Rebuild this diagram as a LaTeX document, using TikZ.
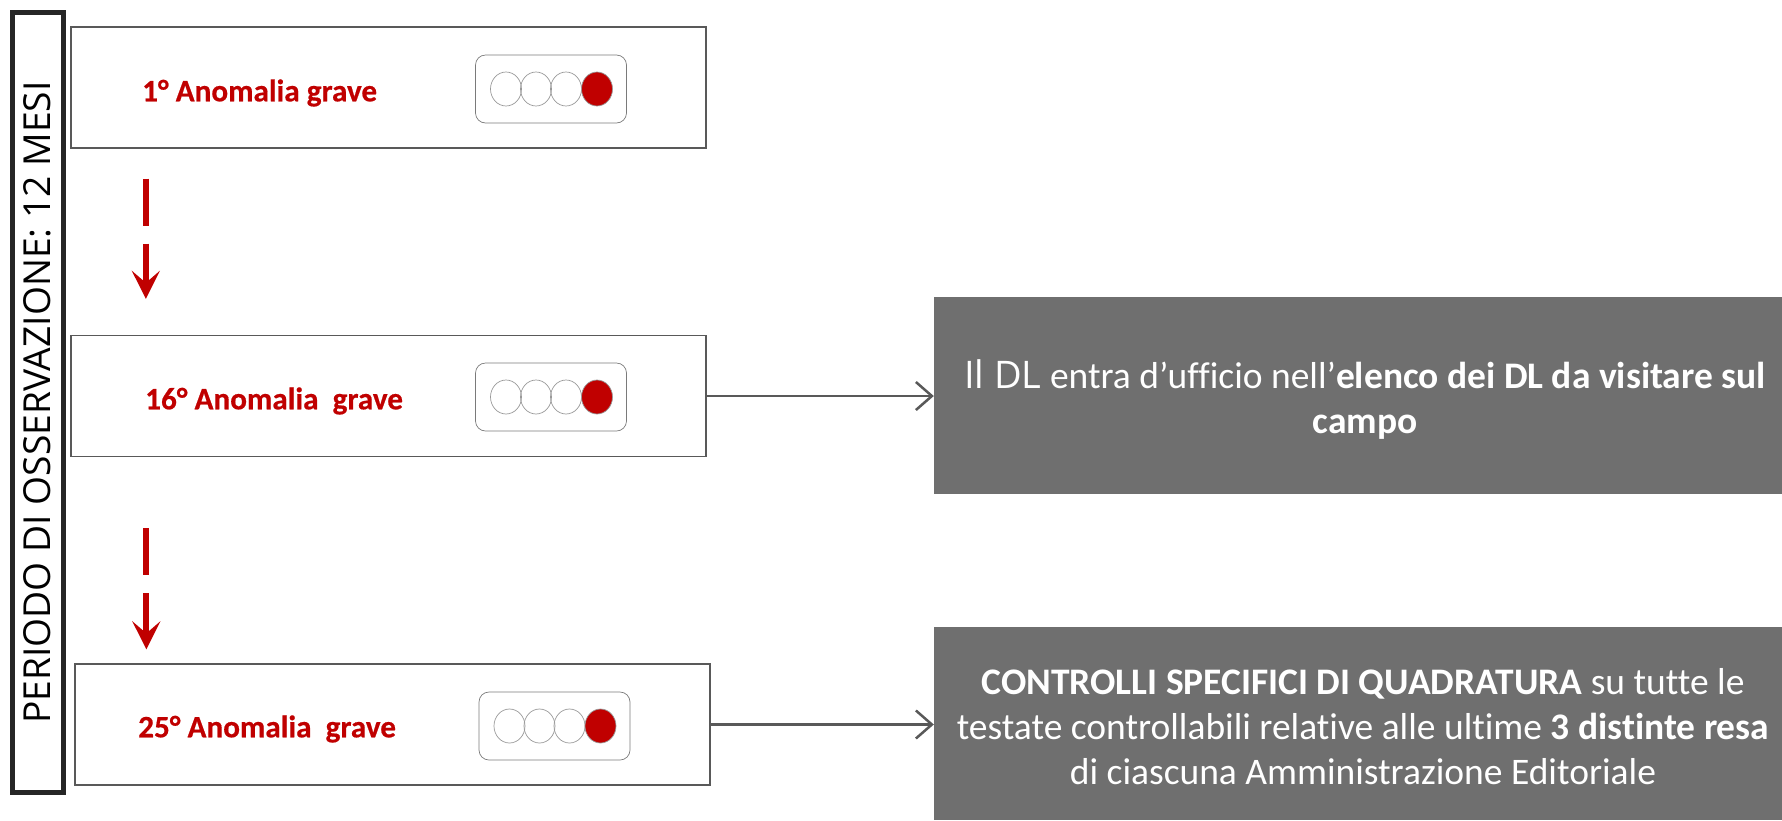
\documentclass[tikz,border=0pt]{standalone}
\usepackage{fontspec}
\setmainfont[Ligatures=NoCommon]{Carlito}
\newfontfamily\lightfont{Open Sans}
\newfontfamily\labelfont[Ligatures=NoCommon,FakeBold=0.5]{Carlito Bold}
\usetikzlibrary{shapes.geometric,arrows.meta}
\definecolor{darkred}{HTML}{C00000}
\definecolor{boxgrey}{HTML}{6F6F6F}
\definecolor{linegrey}{HTML}{595959}
\newcommand{\fsize}[1]{\fontsize{#1pt}{45pt}\selectfont}
\tikzset{
  anombox/.style={draw=linegrey, line width=1.3pt, minimum width=635pt, minimum height=121pt},
  lampbox/.style={draw=linegrey!80, line width=0.7pt, rounded corners=10pt, minimum width=151pt, minimum height=68pt},
  lampoff/.style={ellipse, draw=gray!80, line width=0.7pt, inner sep=0pt, minimum width=31pt, minimum height=34pt},
  lampon/.style={lampoff, fill=darkred},
  anomlabel/.style={anchor=west, inner sep=0pt, text=darkred, font=\labelfont\fsize{31.2}},
  greybox/.style={fill=boxgrey, minimum width=848pt},
  greytext/.style={text=white, align=center, inner sep=0pt, font=\fsize{37.5}},
  redarrow/.style={darkred, line width=6pt, dash pattern=on 47pt off 18pt, -{Stealth[length=28pt,width=28pt,inset=12pt]}},
  greyarrow/.style={linegrey, line width=2.5pt, -{Straight Barb[length=16pt,width=28pt]}}
}
\begin{document}
\begin{tikzpicture}[x=1pt, y=-1pt]
\useasboundingbox (0,0) rectangle (1782,820);

\node[draw=black!85, line width=5pt, rotate=90, minimum width=780pt, minimum height=51pt, inner sep=0pt, font=\lightfont\fsize{37.2}] (period) at (37.5,402.5) {PERIODO DI OSSERVAZIONE: 12 MESI};

\node[anombox] (box_1) at (388.5,87.5)  {};
\node[anombox] (box_2) at (388.5,396)   {};
\node[anombox] (box_3) at (392.5,724.5) {};

\node[anomlabel] (label_1) at (142,93)  {1° Anomalia grave};
\node[anomlabel] (label_2) at (145,401) {16° Anomalia\ \ grave};
\node[anomlabel] (label_3) at (138,729) {25° Anomalia\ \ grave};

\node[lampbox] (lamps_1) at (551,89)    {};
\node[lampbox] (lamps_2) at (551,397)   {};
\node[lampbox] (lamps_3) at (554.5,726) {};

\node[lampoff] (a_1) at (506,89) {};
\node[lampoff] (a_2) at (536,89) {};
\node[lampoff] (a_3) at (566,89) {};
\node[lampon]  (a_4) at (597,89) {};
\node[lampoff] (b_1) at (506,397) {};
\node[lampoff] (b_2) at (536,397) {};
\node[lampoff] (b_3) at (566,397) {};
\node[lampon]  (b_4) at (597,397) {};
\node[lampoff] (c_1) at (509.5,726) {};
\node[lampoff] (c_2) at (539.5,726) {};
\node[lampoff] (c_3) at (569.5,726) {};
\node[lampon]  (c_4) at (600.5,726) {};

\node[greybox, minimum height=197.5pt] (grey_1) at (1358,395.25) {};
\node[greybox, minimum height=193.5pt] (grey_2) at (1358,723.25) {};

\node[greytext] (text_1) at (1365,399.5) {{\lightfont\fsize{38}Il DL} entra d’ufficio nell’\textbf{elenco dei DL da visitare sul}\\\textbf{campo}};
\node[greytext] (text_2) at (1363,726.5) {\textbf{CONTROLLI SPECIFICI DI QUADRATURA} su tutte le\\testate controllabili relative alle ultime \textbf{3 distinte resa}\\di ciascuna Amministrazione Editoriale};

\draw[redarrow, shorten <=30pt, shorten >=36pt] ([xshift=75.5pt]box_1.south west) -- ([xshift=75.5pt]box_2.north west);
\draw[redarrow, shorten <=71pt, shorten >=14pt] ([xshift=76pt]box_2.south west) -- ([xshift=72pt]box_3.north west);

\draw[greyarrow] (box_2.east) -- (box_2.east -| grey_1.west);
\draw[greyarrow] (box_3.east) -- (box_3.east -| grey_2.west);
\end{tikzpicture}
\end{document}
